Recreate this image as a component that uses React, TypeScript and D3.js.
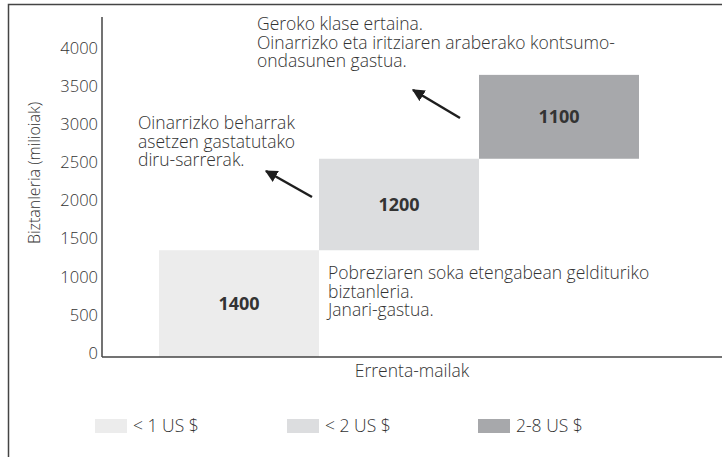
import React from 'react';
import * as d3 from 'd3';

// income levels and population (millions) of each step
const categories = ['< 1 US $', '< 2 US $', '2-8 US $'];
const populations = [1400, 1200, 1100];
const barColors = ['#ececec', '#dcdddf', '#a7a8ab'];
const yTicks = [0, 500, 1000, 1500, 2000, 2500, 3000, 3500, 4000];

const noteTop = ['Geroko klase ertaina.', 'Oinarrizko eta iritziaren araberako kontsumo-', 'ondasunen gastua.'];
const noteMid = ['Oinarrizko beharrak', 'asetzen gastatutako', 'diru-sarrerak.'];
const noteLow = ['Pobreziaren soka etengabean geldituriko', 'biztanleria.', 'Janari-gastua.'];

const FONT = "'Open Sans', 'Liberation Sans', sans-serif";
const TEXT = '#333';

export default function App() {
  const width = 722;
  const height = 457;
  const axisX = 102;
  const axisBottom = 357;

  const x = d3.scaleBand<string>().domain(categories).range([159, 639]).padding(0);
  const y = d3.scaleLinear().domain([0, 4000]).range([axisBottom, 52]);

  // stack the steps on top of each other
  const ends = d3.cumsum(populations);
  const bars = categories.map((c, i) => ({
    cat: c,
    value: populations[i],
    y0: ends[i] - populations[i],
    y1: ends[i],
    color: barColors[i],
  }));

  const noteBlock = (lines: string[], x0: number, y0: number, key: string) => (
    <text key={key} x={x0} y={y0} fontFamily={FONT} fontWeight={300} fontSize={17.5} fill={TEXT}>
      {lines.map((l, i) => (
        <tspan key={i} x={x0} dy={i === 0 ? 0 : 18.7}>{l}</tspan>
      ))}
    </text>
  );

  const legendX = [95, 287, 478];

  return (
    <svg width={width} height={height} viewBox={`0 0 ${width} ${height}`}
      style={{ position: 'absolute', left: 0, top: 0, background: 'white' }}>
      <defs>
        <marker id="head" viewBox="0 0 10 10" refX="9" refY="5" markerWidth="5" markerHeight="5"
          markerUnits="strokeWidth" orient="auto">
          <path d="M0,0 L10,5 L0,10 z" fill="#1e1e1e" />
        </marker>
      </defs>

      {/* outer frame */}
      <rect x={8.5} y={4.5} width={730} height={470} fill="none" stroke="#444" strokeWidth={1.5} />

      {/* bars */}
      {bars.map(b => (
        <g key={b.cat}>
          <rect x={x(b.cat)} y={y(b.y1)} width={x.bandwidth()} height={y(b.y0) - y(b.y1)} fill={b.color} />
          <text x={(x(b.cat) as number) + x.bandwidth() / 2} y={(y(b.y0) + y(b.y1)) / 2}
            dy="0.35em" textAnchor="middle" fontFamily={FONT} fontWeight={700} fontSize={18} fill={TEXT}>
            {b.value}
          </text>
        </g>
      ))}

      {/* axes */}
      <line x1={axisX} x2={axisX} y1={17} y2={axisBottom} stroke="#444" strokeWidth={1.5} />
      <line x1={axisX} x2={width} y1={axisBottom} y2={axisBottom} stroke="#444" strokeWidth={1.5} />
      {yTicks.map(t => (
        <text key={t} x={98} y={y(t) - 4} dy="0.35em" textAnchor="end" fontFamily={FONT}
          fontWeight={300} fontSize={16.5} fill={TEXT}>{t}</text>
      ))}
      <text transform={`translate(40,173) rotate(-90)`} textAnchor="middle"
        fontFamily={FONT} fontWeight={300} fontSize={16} fill={TEXT}>Biztanleria (milioiak)</text>
      <text x={(axisX + width) / 2} y={371} dy="0.35em" textAnchor="middle"
        fontFamily={FONT} fontWeight={300} fontSize={17.5} fill={TEXT}>Errenta-mailak</text>

      {/* notes and arrows */}
      {noteBlock(noteTop, 257, 30, 'top')}
      {noteBlock(noteMid, 138, 129, 'mid')}
      {noteBlock(noteLow, (x(categories[1]) as number) + 9, 279, 'low')}
      <line x1={312} y1={197} x2={266} y2={171} stroke="#1e1e1e" strokeWidth={2.5} markerEnd="url(#head)" />
      <line x1={460} y1={118} x2={413} y2={90} stroke="#1e1e1e" strokeWidth={2.5} markerEnd="url(#head)" />

      {/* legend */}
      {categories.map((c, i) => (
        <g key={c}>
          <rect x={legendX[i]} y={419} width={32} height={14} fill={barColors[i]} />
          <text x={legendX[i] + 38} y={426} dy="0.35em" fontFamily={FONT} fontWeight={300}
            fontSize={17.5} fill={TEXT}>{c}</text>
        </g>
      ))}
    </svg>
  );
}
